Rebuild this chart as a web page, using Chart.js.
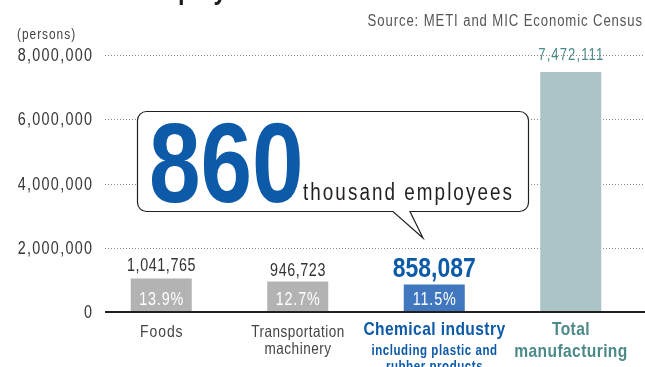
<!DOCTYPE html>
<html>
<head>
<meta charset="utf-8">
<script src="https://cdn.jsdelivr.net/npm/chart.js@4"></script>
<style>
  html, body { margin: 0; padding: 0; background: #fff; }
  #wrap { width: 645px; height: 367px; position: relative; }
</style>
</head>
<body>
<div id="wrap"><canvas id="chart-employees"></canvas></div>
<script>
const categories = ['Foods', 'Transportation machinery', 'Chemical industry', 'Total manufacturing'];
const categoryLines = [
    ['Foods'],
    ['Transportation', 'machinery'],
    ['Chemical industry', 'including plastic and', 'rubber products'],
    ['Total', 'manufacturing']
];
const employees = [1041765, 946723, 858087, 7472111];
const yTicks = [0, 2000000, 4000000, 6000000, 8000000];
const headline = ['860', 'thousand employees'];
const sourceText = 'Source: METI and MIC Economic Census';
const unitText = '(persons)';
const titleText = 'Number of employees';

// Liberation Sans squeezed horizontally stands in for a condensed face
const FONT = '"Liberation Sans", Arial, sans-serif';
const SQUEEZE = 0.82;
const GRAY_TEXT = '#333';
const BLUE = '#0c5aa8';
const TEAL = '#4b8a88';
const barColors = ['#b3b3b3', '#b3b3b3', '#4077bf', '#abc5c7'];

const chartEl = document.getElementById('chart-employees');
let chartEmployees;

function fmt(n) {
    return n.toLocaleString('en-US');
}

// condensed text with letter spacing; x is the left/center/right of the run
function drawText(ctx, str, x, y, size, weight, color, align, spacing) {
    ctx.save();
    ctx.font = weight + ' ' + size + 'px ' + FONT;
    ctx.letterSpacing = '0px';
    const w = (ctx.measureText(str).width + spacing * (str.length - 1)) * SQUEEZE;
    let x0 = x;
    if (align === 'center') x0 = x - w / 2;
    if (align === 'right') x0 = x - w;
    ctx.translate(x0, y);
    ctx.scale(SQUEEZE, 1);
    ctx.letterSpacing = spacing + 'px';
    ctx.fillStyle = color;
    ctx.textAlign = 'left';
    ctx.textBaseline = 'alphabetic';
    ctx.fillText(str, 0, 0);
    ctx.restore();
}

const axisDecor = {
    id: 'axisDecor',
    beforeDatasetsDraw(chart) {
        const ctx = chart.ctx;
        const y = chart.scales.y;
        ctx.save();
        ctx.strokeStyle = '#8a8a8a';
        ctx.lineWidth = 1;
        ctx.setLineDash([1, 2]);
        y.ticks.forEach(t => {
            if (t.value === 0) return;
            const py = Math.round(y.getPixelForValue(t.value)) + 0.5;
            ctx.beginPath();
            ctx.moveTo(105, py);
            ctx.lineTo(645, py);
            ctx.stroke();
        });
        ctx.restore();
        y.ticks.forEach(t => {
            const py = y.getPixelForValue(t.value);
            drawText(ctx, fmt(t.value), 92, py + 6, 17.5, 'normal', GRAY_TEXT, 'right', 1.6);
        });
    }
};

const callout = {
    id: 'callout',
    beforeDatasetsDraw(chart) {
        const ctx = chart.ctx;
        const left = 137.5, top = 111.5, right = 528.5, bottom = 211.5, r = 9;
        ctx.save();
        ctx.beginPath();
        ctx.moveTo(left + r, top);
        ctx.lineTo(right - r, top);
        ctx.arcTo(right, top, right, top + r, r);
        ctx.lineTo(right, bottom - r);
        ctx.arcTo(right, bottom, right - r, bottom, r);
        ctx.lineTo(410, bottom);
        ctx.lineTo(423, 238);
        ctx.lineTo(393, bottom);
        ctx.lineTo(left + r, bottom);
        ctx.arcTo(left, bottom, left, bottom - r, r);
        ctx.lineTo(left, top + r);
        ctx.arcTo(left, top, left + r, top, r);
        ctx.closePath();
        ctx.fillStyle = '#fff';
        ctx.fill();
        ctx.strokeStyle = '#231f20';
        ctx.lineWidth = 1.2;
        ctx.stroke();
        ctx.restore();

        drawText(ctx, headline[0], 149, 202, 113, 'bold', BLUE, 'left', 0);
        drawText(ctx, headline[1], 303, 200, 23, 'normal', '#231f20', 'left', 2.5);
    }
};

const barLabels = {
    id: 'barLabels',
    afterDatasetsDraw(chart) {
        const ctx = chart.ctx;
        const meta = chart.getDatasetMeta(0);
        const y = chart.scales.y;
        const zero = y.getPixelForValue(0);
        const total = employees[employees.length - 1];

        // zero line
        ctx.save();
        ctx.strokeStyle = '#231f20';
        ctx.lineWidth = 2;
        ctx.beginPath();
        ctx.moveTo(105, zero);
        ctx.lineTo(645, zero);
        ctx.stroke();
        ctx.restore();

        const valueGap = [8, 6, 7, 12];
        meta.data.forEach((bar, i) => {
            const v = employees[i];
            if (i === 2) {
                drawText(ctx, fmt(v), bar.x, bar.y - valueGap[i], 28, 'bold', BLUE, 'center', 0);
            } else if (i === 3) {
                drawText(ctx, fmt(v), bar.x, bar.y - valueGap[i], 16, 'normal', TEAL, 'center', 1.3);
            } else {
                drawText(ctx, fmt(v), bar.x, bar.y - valueGap[i], 17.5, 'normal', GRAY_TEXT, 'center', 0.7);
            }
            if (i < 3) {
                const share = (v / total * 100).toFixed(1) + '%';
                drawText(ctx, share, bar.x, zero - 7, 17.5, 'normal', '#fff', 'center', 1);
            }
        });

        // category labels: size, weight, colour, spacing, baseline
        const lineStyles = [
            [[17, 'normal', '#444', 1.2, 337]],
            [[16.5, 'normal', '#444', 0.6, 337], [16.5, 'normal', '#444', 0.6, 354]],
            [[19, 'bold', BLUE, 0.5, 335], [14, 'bold', BLUE, 0.7, 355], [14, 'bold', BLUE, 0.7, 371]],
            [[19, 'bold', TEAL, 0.5, 335], [19, 'bold', TEAL, 0.5, 357]]
        ];
        meta.data.forEach((bar, i) => {
            categoryLines[i].forEach((line, j) => {
                const s = lineStyles[i][j];
                drawText(ctx, line, bar.x, s[4], s[0], s[1], s[2], 'center', s[3]);
            });
        });

        // heading, unit and source
        drawText(ctx, titleText, 18, -1.5, 29, 'bold', '#231f20', 'left', 0);
        drawText(ctx, unitText, 17, 39, 14.5, 'normal', '#444', 'left', 1.2);
        drawText(ctx, sourceText, 642, 26, 16, 'normal', '#555', 'right', 1.1);
    }
};

function initChart_Employees() {
    chartEmployees = new Chart(chartEl, {
        type: 'bar',
        data: {
            labels: categories,
            datasets: [{
                label: 'Employees',
                data: employees,
                backgroundColor: barColors,
                borderWidth: 0,
                barPercentage: 0.447,
                categoryPercentage: 1
            }]
        },
        options: {
            responsive: true,
            maintainAspectRatio: false,
            animation: false,
            layout: {
                padding: { top: 55, right: 6, bottom: 55, left: 0 }
            },
            scales: {
                x: {
                    display: false
                },
                y: {
                    min: 0,
                    max: 8000000,
                    afterFit(scale) {
                        scale.width = 93;
                    },
                    afterBuildTicks(scale) {
                        scale.ticks = yTicks.map(v => ({ value: v }));
                    },
                    ticks: { display: false },
                    grid: { display: false, drawTicks: false },
                    border: { display: false }
                }
            },
            plugins: {
                legend: { display: false },
                tooltip: { enabled: false }
            }
        },
        plugins: [axisDecor, callout, barLabels]
    });
}

initChart_Employees();
</script>
</body>
</html>
